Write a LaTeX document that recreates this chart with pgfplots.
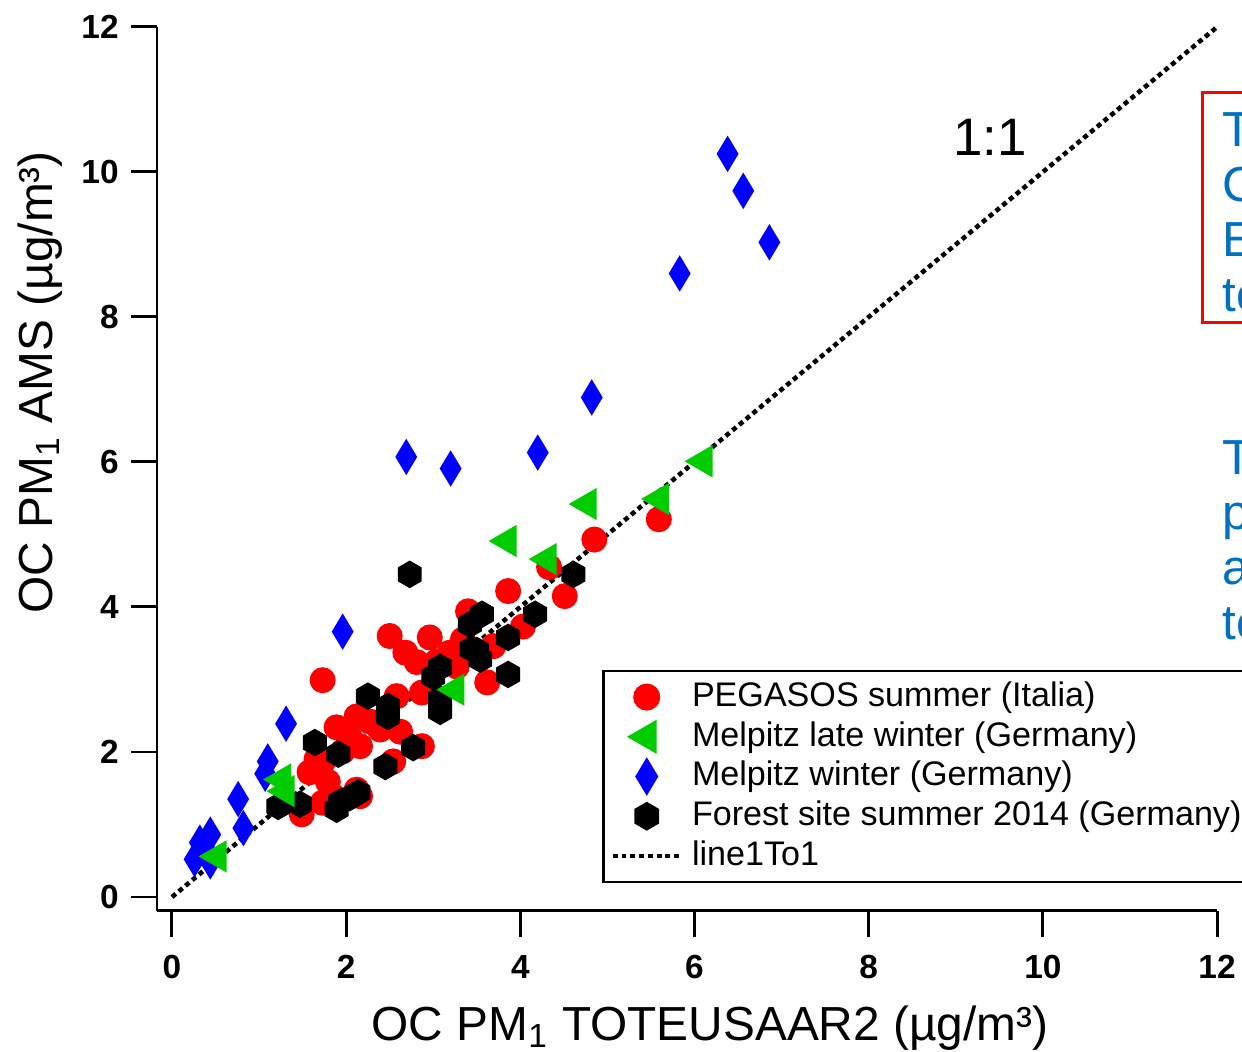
\documentclass[border=0pt]{standalone}
\usepackage{pgfplots}
\pgfplotsset{compat=1.18}
\usepackage{fontspec}
\setmainfont{Liberation Sans}

\definecolor{mkgreen}{RGB}{0,204,0}
\definecolor{txtblue}{RGB}{0,112,192}

% pointy-top hexagon marker
\pgfdeclareplotmark{hexagon*}{%
  \pgfpathmoveto{\pgfqpointpolar{90}{\pgfplotmarksize}}%
  \pgfpathlineto{\pgfqpointpolar{150}{\pgfplotmarksize}}%
  \pgfpathlineto{\pgfqpointpolar{210}{\pgfplotmarksize}}%
  \pgfpathlineto{\pgfqpointpolar{270}{\pgfplotmarksize}}%
  \pgfpathlineto{\pgfqpointpolar{330}{\pgfplotmarksize}}%
  \pgfpathlineto{\pgfqpointpolar{30}{\pgfplotmarksize}}%
  \pgfpathclose\pgfusepathqfillstroke}

\begin{document}
\begin{tikzpicture}
\useasboundingbox (-1.57,-1.41) rectangle (10.85,9.11);
\clip (-1.57,-1.41) rectangle (10.85,9.11);
\begin{axis}[
    scale only axis,
    width=10.6cm, height=8.84cm,
    xmin=-0.172, xmax=12, ymin=-0.193, ymax=12,
    axis lines=left,
    axis line style={-, line width=0.85pt},
    xtick={0,2,...,12}, ytick={0,2,...,12},
    minor tick num=0,
    tick align=outside,
    major tick length=0.26cm,
    tick style={line width=0.85pt, black},
    /pgf/number format/assume math mode=true,
    ticklabel style={font=\fontsize{9.5}{11}\selectfont\bfseries},
    xticklabel style={yshift=-0.06cm},
    clip=false,
    xlabel={OC PM\textsubscript{1} TOTEUSAAR2 (µg/m³)},
    ylabel={OC PM\textsubscript{1} AMS (µg/m³)},
    label style={font=\fontsize{13.6}{16}\selectfont},
    xlabel style={at={(axis description cs:0.5217,-0.1460)}, anchor=base},
    ylabel style={at={(axis description cs:-0.0990,0.598)}, anchor=base},
    legend style={at={(rel axis cs:0.42,0.2726)}, anchor=north west,
        draw=black, line width=0.7pt,
        font=\fontsize{9.7}{11}\selectfont,
        nodes={inner sep=0.6pt, text height=0.78em, text depth=0.25em},
        /tikz/every odd column/.append style={column sep=1.95pt},
        row sep=-0.2pt, inner xsep=2pt, inner ysep=1.6pt},
    legend cell align=left,
    legend image code/.code={\draw[mark repeat=2,mark phase=2,#1] plot coordinates {(0cm,0cm) (0.34cm,0cm) (0.68cm,0cm)};},
]
% PEGASOS summer (Italia)
\addplot[only marks, mark=*, mark size=3.5pt, color=red, forget plot] coordinates {
 (5.59,5.21) (4.85,4.93) (4.33,4.55) (3.86,4.22) (4.51,4.15) (3.40,3.94)
 (4.03,3.73) (2.50,3.60) (2.96,3.58) (2.68,3.37) (2.81,3.24) (3.62,2.96)
 (3.19,3.37) (3.69,3.46) (1.73,2.99) (1.89,2.34) (2.12,2.49) (2.27,2.42)
 (2.16,2.08) (1.73,1.86) (1.79,1.59) (1.85,1.39) (2.16,1.39) (1.49,1.14)
 (2.58,2.77) (2.62,2.28) (2.87,2.08) (2.54,1.87) (1.96,2.01) (2.04,2.20)
 (2.12,1.48) (1.73,1.30) (1.66,1.90) (1.58,1.72) (3.04,3.25) (2.39,2.31)
 (3.34,3.55) (3.27,3.18) (2.87,2.82)
};
% Forest site summer 2014 (Germany)
\addplot[only marks, mark=hexagon*, mark size=3.7pt, color=black, forget plot] coordinates {
 (2.73,4.45) (4.61,4.45) (4.17,3.90) (3.56,3.90) (3.42,3.76) (3.86,3.58)
 (3.44,3.42) (3.54,3.28) (3.86,3.07) (3.08,3.17) (3.00,3.04) (3.08,2.73)
 (3.08,2.56) (2.48,2.63) (2.25,2.77) (2.48,2.49) (1.64,2.13) (1.91,1.97)
 (2.45,1.80) (2.77,2.06) (1.89,1.21) (2.04,1.37) (2.14,1.44) (1.22,1.25)
 (1.47,1.28) (1.93,1.31) (3.50,3.40)
};
% Melpitz winter (Germany)
\addplot[only marks, mark=diamond*, mark size=4.8pt, color=blue,
    mark options={xscale=0.8}, forget plot] coordinates {
 (6.38,10.25) (6.56,9.74) (6.86,9.03) (5.83,8.60) (4.82,6.89) (4.20,6.13)
 (2.69,6.07) (3.20,5.91) (1.96,3.66) (1.31,2.39) (1.10,1.87) (1.07,1.70)
 (0.76,1.35) (0.82,0.95) (0.32,0.75) (0.44,0.86) (0.26,0.52) (0.44,0.49)
 (0.38,0.66)
};
% Melpitz late winter (Germany)
\addplot[only marks, mark=triangle*, mark size=4.9pt, color=mkgreen,
    mark options={rotate=90}, forget plot] coordinates {
 (6.10,6.01) (5.60,5.49) (4.77,5.42) (3.85,4.91) (4.31,4.66) (1.26,1.62)
 (1.30,1.46) (0.52,0.56) (3.25,2.86)
};
% line1To1
\addplot[black, line width=1.3pt, dash pattern=on 1.4pt off 1.1pt, forget plot]
  coordinates {(0,0) (12,12)};

\addlegendimage{only marks, mark=*, mark size=3.5pt, color=red}
\addlegendentry{PEGASOS summer (Italia)}
\addlegendimage{only marks, mark=triangle*, mark size=4.9pt, color=mkgreen, mark options={rotate=90}}
\addlegendentry{Melpitz late winter (Germany)}
\addlegendimage{only marks, mark=diamond*, mark size=4.8pt, color=blue, mark options={xscale=0.8}}
\addlegendentry{Melpitz winter (Germany)}
\addlegendimage{only marks, mark=hexagon*, mark size=3.7pt, color=black}
\addlegendentry{Forest site summer 2014 (Germany)}
\addlegendimage{black, line width=1.3pt, dash pattern=on 1.4pt off 1.1pt, mark=none}
\addlegendentry{line1To1}

\node[font=\fontsize{15}{17}\selectfont] at (axis cs:9.39,10.48) {1:1};
\end{axis}

% cut-off annotations on the right
\draw[red, line width=0.85pt] (10.45,5.88) rectangle (11.6,8.18);
\begin{scope}[every node/.style={anchor=base west, inner sep=0pt,
    font=\fontsize{14}{16}\selectfont, text=txtblue}]
\node at (10.65,7.64) {The};
\node at (10.65,7.09) {Comparison};
\node at (10.65,6.54) {EC};
\node at (10.65,5.99) {to};
\node at (10.65,4.36) {The};
\node at (10.65,3.81) {points};
\node at (10.65,3.26) {are};
\node at (10.65,2.71) {to};
\end{scope}
\end{tikzpicture}
\end{document}
